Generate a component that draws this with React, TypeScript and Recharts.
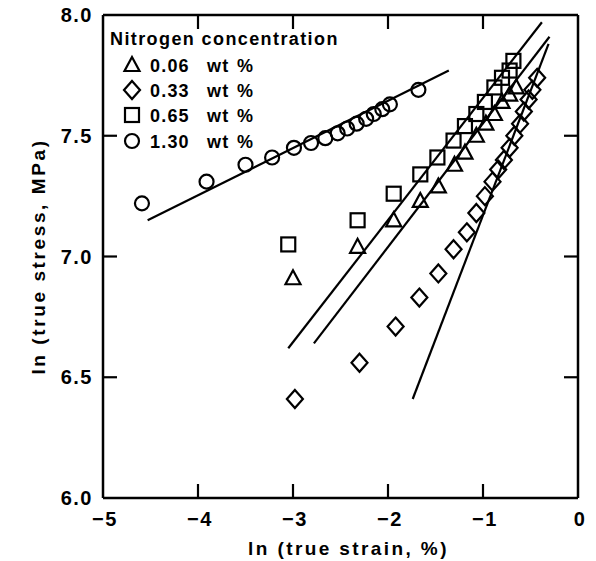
import { ComposedChart, Scatter, XAxis, YAxis, Label } from "recharts";

const xTicks = [-5, -4, -3, -2, -1, 0];
const yTicks = [6, 6.5, 7, 7.5, 8];

// 0.06 wt % N
const strain006 = [-3.0, -2.32, -1.94, -1.66, -1.47, -1.3, -1.19, -1.07, -0.97, -0.88, -0.8, -0.72, -0.65];
const stress006 = [6.91, 7.04, 7.15, 7.23, 7.29, 7.38, 7.43, 7.5, 7.55, 7.59, 7.64, 7.67, 7.7];

// 0.33 wt % N
const strain033 = [-2.98, -2.3, -1.92, -1.67, -1.47, -1.31, -1.17, -1.07, -0.98, -0.9, -0.84, -0.78, -0.72, -0.67, -0.61, -0.57, -0.52, -0.48, -0.43];
const stress033 = [6.41, 6.56, 6.71, 6.83, 6.93, 7.03, 7.1, 7.18, 7.25, 7.31, 7.36, 7.4, 7.45, 7.5, 7.55, 7.6, 7.65, 7.69, 7.74];

// 0.65 wt % N
const strain065 = [-3.05, -2.32, -1.94, -1.66, -1.48, -1.31, -1.19, -1.07, -0.98, -0.88, -0.8, -0.72, -0.68];
const stress065 = [7.05, 7.15, 7.26, 7.34, 7.41, 7.48, 7.54, 7.59, 7.64, 7.7, 7.74, 7.77, 7.81];

// 1.30 wt % N
const strain130 = [-4.59, -3.91, -3.5, -3.22, -2.99, -2.81, -2.66, -2.53, -2.43, -2.33, -2.23, -2.15, -2.06, -1.98, -1.68];
const stress130 = [7.22, 7.31, 7.38, 7.41, 7.45, 7.47, 7.49, 7.51, 7.53, 7.55, 7.57, 7.59, 7.61, 7.63, 7.69];

// fitted lines (end points)
const fit006X = [-2.78, -0.3];
const fit006Y = [6.64, 7.91];
const fit033X = [-1.74, -0.31];
const fit033Y = [6.41, 7.88];
const fit065X = [-3.05, -0.38];
const fit065Y = [6.62, 7.97];
const fit130X = [-4.53, -1.36];
const fit130Y = [7.15, 7.77];

const legendLabels = ["0.06", "0.33", "0.65", "1.30"];

type Kind = "triangle" | "diamond" | "square" | "circle";
const kinds: Kind[] = ["triangle", "diamond", "square", "circle"];

const zip = (xs: number[], ys: number[]) => xs.map((x, i) => ({ x, y: ys[i] }));

const FONT = "'Liberation Sans', Arial, sans-serif";
const TICK_LEN = 14;
const txt = { fontFamily: FONT, fontWeight: "bold" as const, fill: "#000" };

function Marker({ cx, cy, kind }: { cx: number; cy: number; kind: Kind }) {
  const common = { fill: "none", stroke: "#000", strokeWidth: 2.2 };
  if (kind === "triangle")
    return <polygon points={`${cx},${cy - 8} ${cx - 7.5},${cy + 6} ${cx + 7.5},${cy + 6}`} {...common} />;
  if (kind === "diamond")
    return <polygon points={`${cx},${cy - 9} ${cx + 8},${cy} ${cx},${cy + 9} ${cx - 8},${cy}`} {...common} />;
  if (kind === "square") return <rect x={cx - 7} y={cy - 7} width={14} height={14} {...common} />;
  return <circle cx={cx} cy={cy} r={7} {...common} />;
}

const shapeFor = (kind: Kind) => (p: any) => <Marker cx={p.cx} cy={p.cy} kind={kind} />;
const noShape = () => <g />;

const fmtX = (v: number) => (v < 0 ? `\u2212${Math.abs(v)}` : `${v}`);

const BottomTick = (p: any) => {
  const v = p.payload.value;
  const inner = v > -5 && v < 0;
  return (
    <g>
      {inner && <line x1={p.x} x2={p.x} y1={p.y} y2={p.y - TICK_LEN} stroke="#000" strokeWidth={2.2} />}
      <text x={p.x + 2} y={p.y + 28} textAnchor="middle" fontSize={20} letterSpacing={1.5} {...txt}>
        {fmtX(v)}
      </text>
    </g>
  );
};

const TopTick = (p: any) => {
  const v = p.payload.value;
  if (v <= -5 || v >= 0) return <g />;
  return <line x1={p.x} x2={p.x} y1={p.y} y2={p.y + TICK_LEN} stroke="#000" strokeWidth={2.2} />;
};

const LeftTick = (p: any) => {
  const v = p.payload.value;
  const inner = v > 6 && v < 8;
  return (
    <g>
      {inner && <line x1={p.x} x2={p.x + TICK_LEN} y1={p.y} y2={p.y} stroke="#000" strokeWidth={2.2} />}
      <text x={p.x - 10} y={p.y + 7} textAnchor="end" fontSize={20} letterSpacing={1.5} {...txt}>
        {v.toFixed(1)}
      </text>
    </g>
  );
};

const RightTick = (p: any) => {
  const v = p.payload.value;
  if (v <= 6 || v >= 8) return <g />;
  return <line x1={p.x} x2={p.x - TICK_LEN} y1={p.y} y2={p.y} stroke="#000" strokeWidth={2.2} />;
};

function LegendBox() {
  const rows = [65, 90, 115, 141];
  return (
    <svg width={400} height={170} style={{ position: "absolute", left: 0, top: 0, pointerEvents: "none" }}>
      <text x={102} y={45} fontSize={18} letterSpacing={1.4} {...txt}>
        Nitrogen concentration
      </text>
      {legendLabels.map((lab, i) => (
        <g key={lab}>
          <Marker cx={124} cy={rows[i]} kind={kinds[i]} />
          <text x={142} y={rows[i] + 7} fontSize={18} letterSpacing={1.2} {...txt}>
            {lab}
          </text>
          <text x={199} y={rows[i] + 7} fontSize={18} letterSpacing={1.2} {...txt}>
            wt
          </text>
          <text x={229} y={rows[i] + 7} fontSize={18} {...txt}>
            %
          </text>
        </g>
      ))}
    </svg>
  );
}

export default function App() {
  const fitLine = { stroke: "#000", strokeWidth: 2.2 };
  const axisLine = { stroke: "#000", strokeWidth: 2.5 };
  return (
    <div style={{ position: "relative", width: 588, height: 561, marginTop: -8 }}>
      <ComposedChart width={588} height={561} margin={{ top: 13, right: 16, bottom: 0, left: 0 }}>
        <XAxis
          type="number"
          dataKey="x"
          domain={[-5, 0]}
          ticks={xTicks}
          allowDataOverflow
          height={63}
          tickSize={0}
          tickMargin={0}
          tick={BottomTick}
          axisLine={axisLine}
        >
          <Label
            value="ln (true strain, %)"
            position="insideBottom"
            offset={6}
            dx={8}
            style={{ ...txt, fontSize: 19, letterSpacing: 2.4 }}
          />
        </XAxis>
        <XAxis
          xAxisId="top"
          orientation="top"
          type="number"
          dataKey="x"
          domain={[-5, 0]}
          ticks={xTicks}
          allowDataOverflow
          height={2}
          tickSize={0}
          tickMargin={0}
          tick={TopTick}
          axisLine={axisLine}
        />
        <YAxis
          type="number"
          dataKey="y"
          domain={[6, 8]}
          ticks={yTicks}
          allowDataOverflow
          width={95}
          tickSize={0}
          tickMargin={0}
          tick={LeftTick}
          axisLine={axisLine}
        >
          <Label
            value="ln (true stress, MPa)"
            angle={-90}
            position="insideLeft"
            offset={30}
            style={{ ...txt, textAnchor: "middle", fontSize: 19, letterSpacing: 2.6 }}
          />
        </YAxis>
        <YAxis
          yAxisId="right"
          orientation="right"
          type="number"
          dataKey="y"
          domain={[6, 8]}
          ticks={yTicks}
          allowDataOverflow
          width={2}
          tickSize={0}
          tickMargin={0}
          tick={RightTick}
          axisLine={axisLine}
        />

        <Scatter data={zip(fit006X, fit006Y)} line={fitLine} shape={noShape} legendType="none" isAnimationActive={false} />
        <Scatter data={zip(fit033X, fit033Y)} line={fitLine} shape={noShape} legendType="none" isAnimationActive={false} />
        <Scatter data={zip(fit065X, fit065Y)} line={fitLine} shape={noShape} legendType="none" isAnimationActive={false} />
        <Scatter data={zip(fit130X, fit130Y)} line={fitLine} shape={noShape} legendType="none" isAnimationActive={false} />

        <Scatter name="0.06 wt %" data={zip(strain006, stress006)} shape={shapeFor("triangle")} isAnimationActive={false} />
        <Scatter name="0.33 wt %" data={zip(strain033, stress033)} shape={shapeFor("diamond")} isAnimationActive={false} />
        <Scatter name="0.65 wt %" data={zip(strain065, stress065)} shape={shapeFor("square")} isAnimationActive={false} />
        <Scatter name="1.30 wt %" data={zip(strain130, stress130)} shape={shapeFor("circle")} isAnimationActive={false} />
      </ComposedChart>
      <LegendBox />
    </div>
  );
}
